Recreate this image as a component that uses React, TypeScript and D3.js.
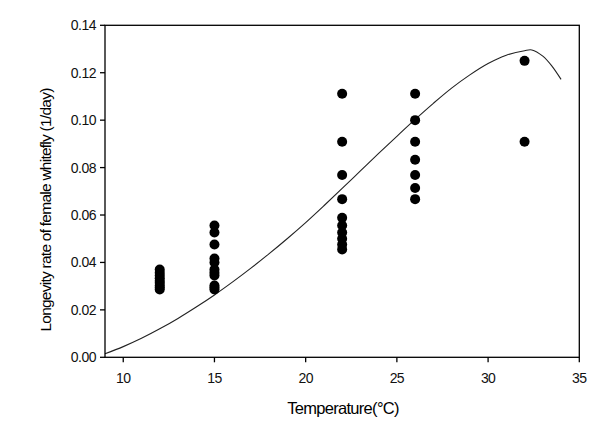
import React from "react";
import * as d3 from "d3";

const temps12 = [0.037, 0.0357, 0.0345, 0.0333, 0.0323, 0.0313, 0.0303, 0.0294, 0.0286];
const temps15 = [0.0556, 0.0526, 0.0476, 0.0417, 0.04, 0.037, 0.0357, 0.0345, 0.0303, 0.0294, 0.0286];
const temps22 = [0.1111, 0.0909, 0.0769, 0.0667, 0.0588, 0.0556, 0.0526, 0.05, 0.0476, 0.0455];
const temps26 = [0.1111, 0.1, 0.0909, 0.0833, 0.0769, 0.0714, 0.0667];
const temps32 = [0.125, 0.0909];

const observed: [number, number[]][] = [
  [12, temps12],
  [15, temps15],
  [22, temps22],
  [26, temps26],
  [32, temps32],
];

const curveT = [9, 10, 11, 12, 13, 14, 15, 16, 17, 18, 19, 20, 21, 22, 23, 24, 25, 26, 27, 28, 29, 30, 31, 32, 32.4, 33, 33.5, 34];
const curveR = [0.0015, 0.0045, 0.008, 0.012, 0.0164, 0.0212, 0.0263, 0.0318, 0.0376, 0.0437, 0.0501, 0.0568, 0.0639, 0.0712, 0.0786, 0.086, 0.0932, 0.1003, 0.1071, 0.1135, 0.1191, 0.1239, 0.1274, 0.1293, 0.1296, 0.127, 0.1228, 0.1172];

const xTicks = [10, 15, 20, 25, 30, 35];
const yTicks = [0, 0.02, 0.04, 0.06, 0.08, 0.1, 0.12, 0.14];

export default function App() {
  const W = 613, H = 440;
  const L = 105, R = 579.3, T = 25.3, B = 357.3;
  const x = d3.scaleLinear().domain([9, 35]).range([L, R]);
  const y = d3.scaleLinear().domain([0, 0.14]).range([B, T]);
  const line = d3
    .line<number>()
    .x((_, i) => x(curveT[i]))
    .y((d) => y(d))
    .curve(d3.curveCatmullRom.alpha(0.5));
  const font = "'Liberation Sans', Arial, sans-serif";
  return (
    <svg width={W} height={H} style={{ position: "absolute", left: 0, top: 0 }}>
      <rect x={0} y={0} width={W} height={H} fill="#fff" />
      <path d={line(curveR) || ""} fill="none" stroke="#222" strokeWidth={1.1} />
      {observed.map(([t, vals]) =>
        vals.map((v, j) => (
          <circle key={t + "-" + j} cx={x(t)} cy={y(v)} r={5} fill="#000" />
        ))
      )}
      <rect x={L} y={T} width={R - L} height={B - T} fill="none" stroke="#000" strokeWidth={1.3} />
      {xTicks.map((t) => (
        <g key={"x" + t}>
          <line x1={x(t)} x2={x(t)} y1={B} y2={B + 5} stroke="#000" strokeWidth={1.3} />
          <text x={x(t)} y={383} textAnchor="middle" fontFamily={font} fontSize={14} letterSpacing={-0.6} fill="#111">
            {t}
          </text>
        </g>
      ))}
      {yTicks.map((t) => (
        <g key={"y" + t}>
          <line x1={L - 5} x2={L} y1={y(t)} y2={y(t)} stroke="#000" strokeWidth={1.3} />
          <text x={96} y={y(t) + 5} textAnchor="end" fontFamily={font} fontSize={14} letterSpacing={-0.5} fill="#111">
            {t.toFixed(2)}
          </text>
        </g>
      ))}
      <text x={343} y={414} textAnchor="middle" fontFamily={font} fontSize={16.5} letterSpacing={-0.7} fill="#000">
        Temperature(°C)
      </text>
      <text
        transform={`translate(51,210) rotate(-90)`}
        textAnchor="middle"
        fontFamily={font}
        fontSize={15.5}
        letterSpacing={-0.75}
        fill="#000"
      >
        Longevity rate of female whitefly (1/day)
      </text>
    </svg>
  );
}
